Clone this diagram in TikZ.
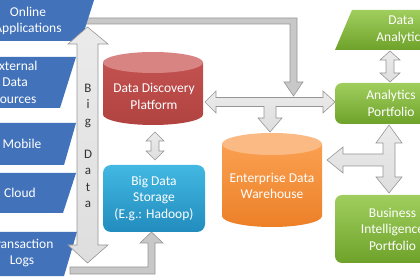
\documentclass[tikz,border=0pt]{standalone}
\usepackage{fontspec}
\setmainfont{Carlito}
\usetikzlibrary{positioning}

\definecolor{srcblue}{RGB}{66,114,186}
\definecolor{storetop}{RGB}{66,184,226}
\definecolor{storebot}{RGB}{34,140,190}
\definecolor{ddpbody}{RGB}{194,82,80}
\definecolor{ddpdark}{RGB}{176,66,64}
\definecolor{ddpcap}{RGB}{216,132,130}
\definecolor{edwbody}{RGB}{250,160,80}
\definecolor{edwdark}{RGB}{236,128,40}
\definecolor{edwcap}{RGB}{251,186,132}
\definecolor{greentop}{RGB}{160,206,94}
\definecolor{greenbot}{RGB}{110,162,42}
\definecolor{arrowfill}{RGB}{222,222,222}
\definecolor{arrowline}{RGB}{150,150,150}
\definecolor{barfill}{RGB}{200,200,200}

\tikzset{
  source/.style={fill=srcblue},
  txt/.style={text=white, align=center, font=\fontsize{13.5}{16.5}\selectfont},
  greenbox/.style={rounded corners=7pt, top color=greentop, bottom color=greenbot, txt},
  storebox/.style={rounded corners=8pt, top color=storetop, bottom color=storebot, txt},
  fatarrow/.style={draw=arrowline, line width=0.6pt, top color=white!92!black, bottom color=arrowfill},
  bar/.style={draw=arrowline, line width=0.6pt, fill=barfill},
}

\begin{document}
\begin{tikzpicture}[x=1pt,y=-1pt]
    \useasboundingbox (0,0) rectangle (420,280);
    \clip (0,0) rectangle (420,280);

    % feed bars
    \draw[bar] (80,18) -- (297,18) -- (297,82) -- (303,82) -- (293.5,96)
        -- (284,82) -- (290,82) -- (290,24) -- (80,24) -- cycle;
    \draw[bar] (70,267) -- (148,267) -- (148,243) -- (140,243) -- (151.5,232)
        -- (163,243) -- (155,243) -- (155,274) -- (70,274) -- cycle;

    % data sources
    \fill[source] (-60,-3) -- (95,-3) -- (81,41) -- (-60,41) -- cycle;
    \node[txt] (online) at (28,21) {Online\\Applications};
    \fill[source] (-60,57) -- (76,57) -- (60,108) -- (-60,108) -- cycle;
    \node[txt] (external) at (15,82) {External\\Data\\Sources};
    \fill[source] (-60,123) -- (76,123) -- (64,165) -- (-60,165) -- cycle;
    \node[txt] (mobile) at (22,144) {Mobile};
    \fill[source] (-60,173) -- (76,173) -- (63,213) -- (-60,213) -- cycle;
    \node[txt] (cloud) at (20,193) {Cloud};
    \fill[source] (-60,232) -- (77,232) -- (64,276) -- (-60,276) -- cycle;
    \node[txt] (transaction) at (22,253) {Transaction\\Logs};

    % big data arrow
    \draw[fatarrow] (87.5,27) -- (108,44) -- (98,44) -- (98,245) -- (108,245)
        -- (87.5,263) -- (68,245) -- (77,245) -- (77,44) -- (68,44) -- cycle;
    \node[text=black!80, align=center, font=\fontsize{13}{16.5}\selectfont]
        (bigdata) at (88,146) {B\\i\\g\\[16.5pt]D\\a\\t\\a};

    % data discovery platform
    \shade[top color=ddpbody, bottom color=ddpdark] (103,62.5) -- (103,114.5)
        arc (180:0:50 and 10.5) -- (203,62.5) -- cycle;
    \fill[ddpcap] (153,62.5) ellipse (50 and 10.5);
    \node[txt] (ddp) at (154,96.5) {Data Discovery\\Platform};

    % enterprise data warehouse
    \shade[top color=edwbody, bottom color=edwdark] (222,144) -- (222,216)
        arc (180:0:50 and 11) -- (322,144) -- cycle;
    \fill[edwcap] (272,144) ellipse (50 and 11);
    \node[txt] (edw) at (272,186) {Enterprise Data\\Warehouse};

    % storage and portfolios
    \node[storebox, minimum width=102, minimum height=67] (storage) at (154,198.5)
        {Big Data\\Storage\\(E.g.: Hadoop)};
    \node[greenbox, minimum width=112, minimum height=41] (analytics) at (391,103.5)
        {Analytics\\Portfolio};
    \node[greenbox, minimum width=115, minimum height=68] (bi) at (392.5,229)
        {Business\\Intelligence\\Portfolio};
    \shade[top color=greentop, bottom color=greenbot]
        (352,10) -- (440,10) -- (440,50) -- (335,50) -- cycle;
    \node[txt] (dataanalytics) at (401,30) {Data\\Analytics};

    % block arrows between the parts
    \draw[fatarrow] (155,132) -- (164,141) -- (159,141) -- (159,151) -- (164,151)
        -- (155,160) -- (146,151) -- (151,151) -- (151,141) -- (146,141) -- cycle;
    \draw[fatarrow] (390,51) -- (400,60) -- (394,60) -- (394,73) -- (400,73)
        -- (390,82) -- (380,73) -- (386,73) -- (386,60) -- (380,60) -- cycle;
    \draw[fatarrow] (205,102) -- (216,91) -- (216,97.5) -- (323,97.5) -- (323,91)
        -- (335,102) -- (323,113) -- (323,106.5) -- (276,106.5) -- (276,118)
        -- (282,118) -- (270,132) -- (258,118) -- (264,118) -- (264,106.5)
        -- (216,106.5) -- (216,113) -- cycle;
    \draw[fatarrow] (389,125) -- (402,143) -- (395,143) -- (395,177) -- (402,177)
        -- (389,193) -- (376,177) -- (383,177) -- (383,166) -- (343,166)
        -- (343,173) -- (327,160) -- (343,147) -- (343,154) -- (383,154)
        -- (383,143) -- (376,143) -- cycle;
\end{tikzpicture}
\end{document}
